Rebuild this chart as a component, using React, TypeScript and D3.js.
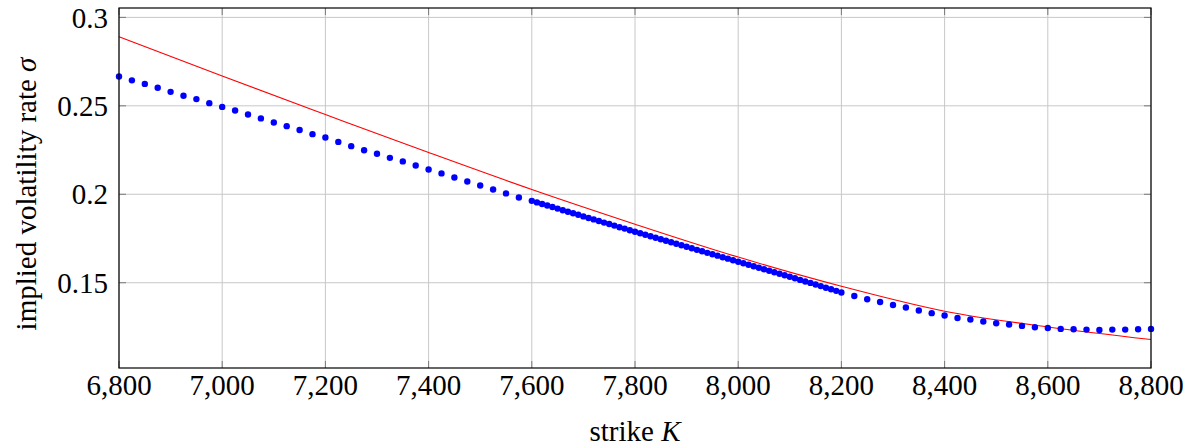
import React from "react";
import * as d3 from "d3";

// strikes for the market points (coarse / dense / coarse)
const coarseLeftK = [
  6800, 6825, 6850, 6875, 6900, 6925, 6950, 6975, 7000, 7025, 7050, 7075, 7100,
  7125, 7150, 7175, 7200, 7225, 7250, 7275, 7300, 7325, 7350, 7375, 7400, 7425,
  7450, 7475, 7500, 7525, 7550, 7575,
];
const coarseLeftSigma = [
  0.2666, 0.2644, 0.2624, 0.2602, 0.2579, 0.2557, 0.2538, 0.2515, 0.2494,
  0.2474, 0.2451, 0.2429, 0.2406, 0.2385, 0.2363, 0.234, 0.2321, 0.2296, 0.2272,
  0.2249, 0.2229, 0.2206, 0.2186, 0.2163, 0.214, 0.2118, 0.2095, 0.2072, 0.205,
  0.2027, 0.2005, 0.1982,
];

const denseK = [
  7600, 7610, 7620, 7630, 7640, 7650, 7660, 7670, 7680, 7690, 7700, 7710, 7720,
  7730, 7740, 7750, 7760, 7770, 7780, 7790, 7800, 7810, 7820, 7830, 7840, 7850,
  7860, 7870, 7880, 7890, 7900, 7910, 7920, 7930, 7940, 7950, 7960, 7970, 7980,
  7990, 8000, 8010, 8020, 8030, 8040, 8050, 8060, 8070, 8080, 8090, 8100, 8110,
  8120, 8130, 8140, 8150, 8160, 8170, 8180, 8190, 8200,
];
const denseSigma = [
  0.1963, 0.1954, 0.1945, 0.1937, 0.1928, 0.1919, 0.191, 0.1901, 0.1893,
  0.1884, 0.1875, 0.1866, 0.1858, 0.1849, 0.184, 0.1832, 0.1823, 0.1814,
  0.1806, 0.1797, 0.1788, 0.178, 0.1771, 0.1763, 0.1754, 0.1746, 0.1737,
  0.1729, 0.172, 0.1712, 0.1703, 0.1695, 0.1686, 0.1678, 0.1669, 0.1661,
  0.1653, 0.1644, 0.1636, 0.1627, 0.1619, 0.161, 0.1602, 0.1593, 0.1585,
  0.1576, 0.1568, 0.1559, 0.1551, 0.1542, 0.1534, 0.1525, 0.1516, 0.1507,
  0.1499, 0.149, 0.1481, 0.1472, 0.1463, 0.1454, 0.1445,
];

const coarseRightK = [
  8225, 8250, 8275, 8300, 8325, 8350, 8375, 8400, 8425, 8450, 8475, 8500, 8525,
  8550, 8575, 8600, 8625, 8650, 8675, 8700, 8725, 8750, 8775, 8800,
];
const coarseRightSigma = [
  0.1425, 0.1407, 0.1391, 0.1374, 0.136, 0.1343, 0.1328, 0.1315, 0.1301,
  0.1292, 0.1281, 0.1271, 0.1264, 0.1256, 0.1248, 0.1244, 0.1239, 0.1237,
  0.1235, 0.1233, 0.1235, 0.1235, 0.1237, 0.1239,
];

// fitted curve (red)
const fitK = [6800, 7000, 7200, 7400, 7600, 7800, 8000, 8200, 8400, 8600, 8800];
const fitSigma = [
  0.289, 0.2668, 0.2451, 0.2236, 0.2027, 0.1831, 0.1645, 0.148, 0.1339, 0.125,
  0.1179,
];

const xTicks = [6800, 7000, 7200, 7400, 7600, 7800, 8000, 8200, 8400, 8600, 8800];
const yTicks = [0.15, 0.2, 0.25, 0.3];

const W = 1191;
const H = 448;
const m = { left: 119, right: 1151, top: 8, bottom: 368 };
const font = "'Liberation Serif', 'DejaVu Serif', serif";
const fs = 29;

const App = () => {
  const x = d3.scaleLinear().domain([6800, 8800]).range([m.left, m.right]);
  const y = d3.scaleLinear().domain([0.1018, 0.3053]).range([m.bottom, m.top]);

  const points = [
    ...coarseLeftK.map((k, i) => [k, coarseLeftSigma[i]]),
    ...denseK.map((k, i) => [k, denseSigma[i]]),
    ...coarseRightK.map((k, i) => [k, coarseRightSigma[i]]),
  ];

  const fitLine = d3
    .line<number>()
    .x((d, i) => x(fitK[i]))
    .y((d) => y(d))
    .curve(d3.curveMonotoneX);

  const fmt = d3.format(",");
  const tickLen = 7;

  return (
    <svg
      width={W}
      height={H}
      style={{ position: "absolute", left: 0, top: 0, background: "#fff" }}
    >
      {/* grid */}
      {xTicks.map((t) => (
        <line key={"gx" + t} x1={x(t)} x2={x(t)} y1={m.top} y2={m.bottom} stroke="#c8c8c8" strokeWidth={1} />
      ))}
      {yTicks.map((t) => (
        <line key={"gy" + t} x1={m.left} x2={m.right} y1={y(t)} y2={y(t)} stroke="#c8c8c8" strokeWidth={1} />
      ))}
      {/* tick marks inside, all four sides */}
      {xTicks.map((t) => (
        <g key={"tx" + t} stroke="#7a7a7a" strokeWidth={1}>
          <line x1={x(t)} x2={x(t)} y1={m.bottom} y2={m.bottom - tickLen} />
          <line x1={x(t)} x2={x(t)} y1={m.top} y2={m.top + tickLen} />
        </g>
      ))}
      {yTicks.map((t) => (
        <g key={"ty" + t} stroke="#7a7a7a" strokeWidth={1}>
          <line x1={m.left} x2={m.left + tickLen} y1={y(t)} y2={y(t)} />
          <line x1={m.right} x2={m.right - tickLen} y1={y(t)} y2={y(t)} />
        </g>
      ))}

      {/* fitted curve */}
      <path d={fitLine(fitSigma) || ""} fill="none" stroke="#ff0000" strokeWidth={1.1} />

      {/* market points */}
      {points.map(([k, s], i) => (
        <circle key={i} cx={x(k)} cy={y(s)} r={3.2} fill="#0000ff" />
      ))}

      {/* axis box */}
      <rect
        x={m.left}
        y={m.top}
        width={m.right - m.left}
        height={m.bottom - m.top}
        fill="none"
        stroke="#000"
        strokeWidth={1.2}
      />

      {/* tick labels */}
      {xTicks.map((t) => (
        <text key={"lx" + t} x={x(t)} y={395} textAnchor="middle" fontFamily={font} fontSize={fs} fill="#000">
          {fmt(t)}
        </text>
      ))}
      {yTicks.map((t) => (
        <text
          key={"ly" + t}
          x={108}
          y={y(t)}
          dy="0.35em"
          textAnchor="end"
          fontFamily={font}
          fontSize={fs}
          fill="#000"
        >
          {String(t)}
        </text>
      ))}

      {/* axis titles */}
      <text x={(m.left + m.right) / 2} y={441} textAnchor="middle" fontFamily={font} fontSize={fs} fill="#000">
        strike <tspan fontStyle="italic">K</tspan>
      </text>
      <text
        transform={`translate(36, ${(m.top + m.bottom) / 2 + 6}) rotate(-90)`}
        textAnchor="middle"
        fontFamily={font}
        fontSize={fs}
        fill="#000"
      >
        implied volatility rate <tspan fontStyle="italic">σ</tspan>
      </text>
    </svg>
  );
};

export default App;
